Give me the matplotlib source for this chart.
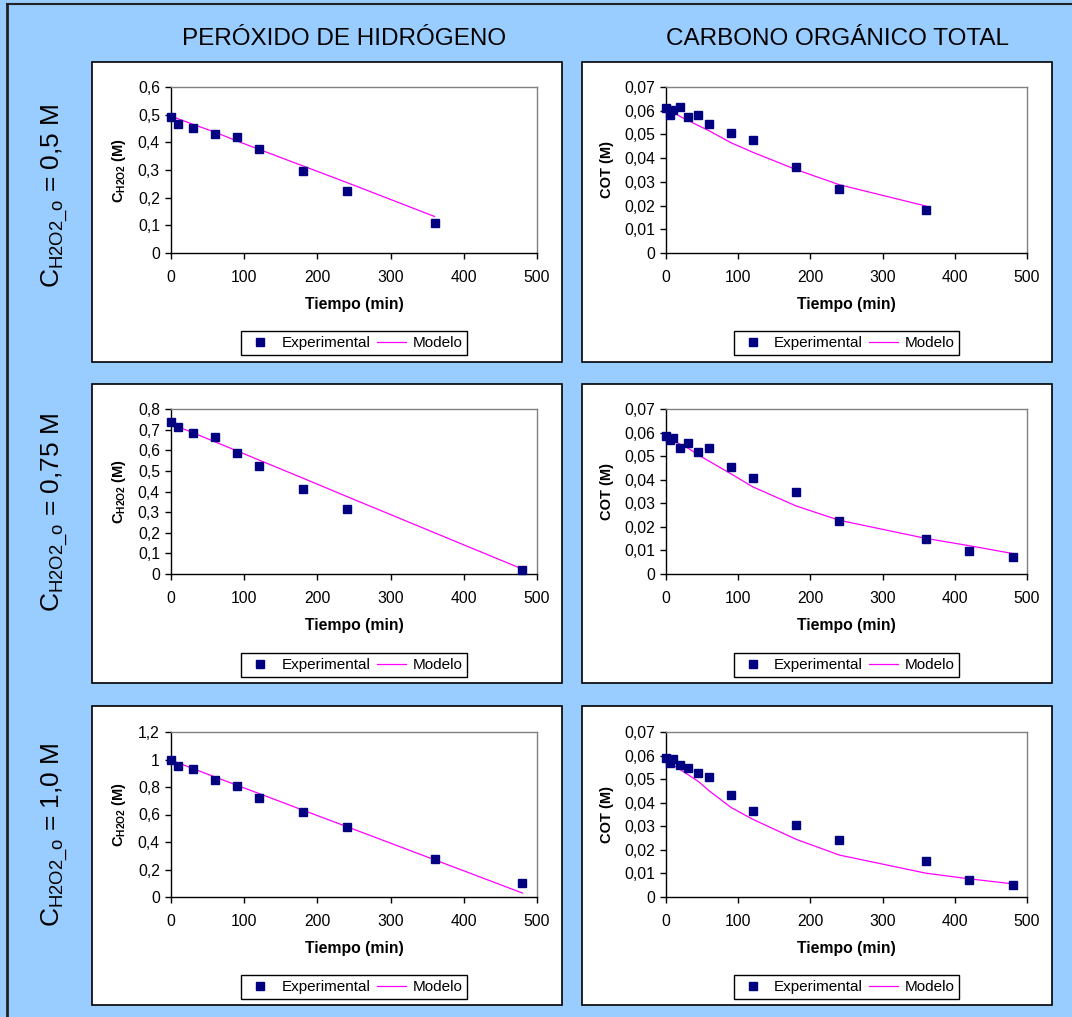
import matplotlib
matplotlib.use("Agg")
import matplotlib.pyplot as plt
from matplotlib.patches import Rectangle
from matplotlib.lines import Line2D
from matplotlib.ticker import MultipleLocator, FuncFormatter

plt.rcParams["font.family"] = ["Liberation Sans", "DejaVu Sans"]
plt.rcParams["mathtext.fontset"] = "custom"
plt.rcParams["mathtext.rm"] = "Liberation Sans"
plt.rcParams["mathtext.bf"] = "Liberation Sans:bold"
plt.rcParams["mathtext.it"] = "Liberation Sans:italic"

# Data
# H2O2 0.5 M
t_h1 = [0, 10, 30, 60, 90, 120, 180, 240, 360]
h1_exp = [0.490, 0.466, 0.451, 0.429, 0.418, 0.377, 0.298, 0.224, 0.108]
h1_mod = [0.495, 0.485, 0.465, 0.437, 0.405, 0.375, 0.315, 0.255, 0.132]
# COT 0.5 M
t_c1 = [0, 5, 10, 20, 30, 45, 60, 90, 120, 180, 240, 360]
c1_exp = [0.0611, 0.0580, 0.0601, 0.0615, 0.0574, 0.0580, 0.0544, 0.0507,
          0.0478, 0.0364, 0.0269, 0.0181]
c1_mod = [0.0605, 0.0599, 0.0593, 0.0575, 0.0560, 0.0537, 0.0515, 0.0465,
          0.0425, 0.0352, 0.0288, 0.0198]
# H2O2 0.75 M
t_h2 = [0, 10, 30, 60, 90, 120, 180, 240, 480]
h2_exp = [0.737, 0.713, 0.683, 0.664, 0.589, 0.525, 0.411, 0.313, 0.018]
h2_mod = [0.727, 0.713, 0.685, 0.641, 0.597, 0.553, 0.465, 0.376, 0.024]
# COT 0.75 M
t_c2 = [0, 5, 10, 20, 30, 45, 60, 90, 120, 180, 240, 360, 420, 480]
c2_exp = [0.0585, 0.0570, 0.0575, 0.0534, 0.0554, 0.0518, 0.0534, 0.0454,
          0.0407, 0.0346, 0.0225, 0.0148, 0.0099, 0.0073]
c2_mod = [0.0580, 0.0573, 0.0566, 0.0550, 0.0535, 0.0505, 0.0478, 0.0425,
          0.0370, 0.0289, 0.0228, 0.0151, 0.0120, 0.0087]
# H2O2 1.0 M
t_h3 = [0, 10, 30, 60, 90, 120, 180, 240, 360, 480]
h3_exp = [0.999, 0.955, 0.928, 0.851, 0.805, 0.718, 0.621, 0.507, 0.279, 0.104]
h3_mod = [0.994, 0.975, 0.934, 0.873, 0.813, 0.753, 0.632, 0.512, 0.271, 0.029]
# COT 1.0 M
t_c3 = [0, 5, 10, 20, 30, 45, 60, 90, 120, 180, 240, 360, 420, 480]
c3_exp = [0.0590, 0.0570, 0.0585, 0.0559, 0.0549, 0.0528, 0.0508, 0.0432,
          0.0366, 0.0306, 0.0241, 0.0154, 0.0073, 0.0052]
c3_mod = [0.0580, 0.0570, 0.0560, 0.0540, 0.0520, 0.0490, 0.0450, 0.0380,
          0.0330, 0.0245, 0.0178, 0.0101, 0.0077, 0.0056]

col_titles = ["PERÓXIDO DE HIDRÓGENO", "CARBONO ORGÁNICO TOTAL"]
row_labels = [r"C$_{\mathrm{H2O2\_o}}$ = 0,5 M",
              r"C$_{\mathrm{H2O2\_o}}$ = 0,75 M",
              r"C$_{\mathrm{H2O2\_o}}$ = 1,0 M"]
ylabels = [r"$\mathbf{C_{H2O2}}$ (M)", "COT (M)"]

W, H = 1072, 1017
BG = "#99CCFF"
NAVY = "#000080"
MAGENTA = "#FF00FF"

fig = plt.figure(figsize=(W / 100, H / 100), dpi=100, facecolor=BG)


def fig_rect(x0, y0, x1, y1):
    return [x0 / W, 1 - y1 / H, (x1 - x0) / W, (y1 - y0) / H]


# outer border lines
fig.add_artist(Line2D([7 / W, 7 / W], [0, 1 - 4 / H], color="#222222", lw=2,
                      transform=fig.transFigure))
fig.add_artist(Line2D([7 / W, 1], [1 - 4 / H, 1 - 4 / H], color="#222222", lw=1.5,
                      transform=fig.transFigure))

panel_x = [(92, 562), (582, 1052)]
panel_y = [(62, 362), (384, 683), (706, 1005)]
axes_x = [(171, 537), (666, 1027)]
axes_y = [(87, 253), (409, 574), (732, 897)]
legend_y = [343, 665, 987]

panels = [
    [(t_h1, h1_exp, h1_mod, 0.6, 0.1), (t_c1, c1_exp, c1_mod, 0.07, 0.01)],
    [(t_h2, h2_exp, h2_mod, 0.8, 0.1), (t_c2, c2_exp, c2_mod, 0.07, 0.01)],
    [(t_h3, h3_exp, h3_mod, 1.2, 0.2), (t_c3, c3_exp, c3_mod, 0.07, 0.01)],
]


def comma_fmt(v, pos):
    s = f"{round(v, 4):g}"
    return s.replace(".", ",")


for r in range(3):
    for c in range(2):
        px0, px1 = panel_x[c]
        py0, py1 = panel_y[r]
        fig.add_artist(Rectangle((px0 / W, 1 - py1 / H), (px1 - px0) / W,
                                 (py1 - py0) / H, facecolor="white",
                                 edgecolor="black", lw=1.2,
                                 transform=fig.transFigure, zorder=0))

        t, yexp, ymod, ymax, ystep = panels[r][c]
        ax = fig.add_axes(fig_rect(axes_x[c][0], axes_y[r][0],
                                   axes_x[c][1], axes_y[r][1]))
        ax.set_facecolor("white")
        ax.plot(t, ymod, color=MAGENTA, lw=0.9, zorder=2)
        ax.plot(t, yexp, ls="none", marker="s", ms=5.5, color=NAVY,
                mec=NAVY, zorder=3, clip_on=False)
        ax.set_xlim(0, 500)
        ax.set_ylim(0, ymax)
        ax.xaxis.set_major_locator(MultipleLocator(100))
        ax.yaxis.set_major_locator(MultipleLocator(ystep))
        ax.yaxis.set_major_formatter(FuncFormatter(comma_fmt))
        ax.xaxis.set_major_formatter(FuncFormatter(comma_fmt))
        for side in ["top", "right"]:
            ax.spines[side].set_color("#808080")
            ax.spines[side].set_linewidth(1.0)
        for side in ["left", "bottom"]:
            ax.spines[side].set_color("black")
            ax.spines[side].set_linewidth(1.0)
        ax.tick_params(axis="x", direction="out", length=4, width=1,
                       labelsize=11.3, pad=8)
        ax.tick_params(axis="y", direction="out", length=4, width=1,
                       labelsize=11.3, pad=4)
        ax.set_xlabel("Tiempo (min)", fontsize=11.3, fontweight="bold",
                      labelpad=9)
        ax.set_ylabel(ylabels[c], fontsize=10.5, fontweight="bold",
                      labelpad=7)

        handles = [
            Line2D([], [], ls="none", marker="s", ms=5.5, color=NAVY),
            Line2D([], [], color=MAGENTA, lw=0.9),
        ]
        cx = (axes_x[c][0] + axes_x[c][1]) / 2
        leg = ax.legend(handles, ["Experimental", "Modelo"], ncol=2,
                        loc="center", bbox_to_anchor=(cx / W, 1 - legend_y[r] / H),
                        bbox_transform=fig.transFigure, fontsize=11,
                        frameon=True, fancybox=False, framealpha=1,
                        edgecolor="black", handlelength=1.9,
                        handletextpad=0.45, columnspacing=0.4,
                        borderpad=0.3)
        leg.get_frame().set_linewidth(1.0)

# column titles
fig.text(344 / W, 1 - 39 / H, col_titles[0], fontsize=17.5, ha="center",
         va="center")
fig.text(838 / W, 1 - 39 / H, col_titles[1], fontsize=17.5, ha="center",
         va="center")

# row labels
row_cy = [196, 512, 835]
for r in range(3):
    fig.text(55 / W, 1 - row_cy[r] / H, row_labels[r], fontsize=19,
             rotation=90, ha="center", va="center")

fig.savefig("out.png", dpi=100, facecolor=BG)
